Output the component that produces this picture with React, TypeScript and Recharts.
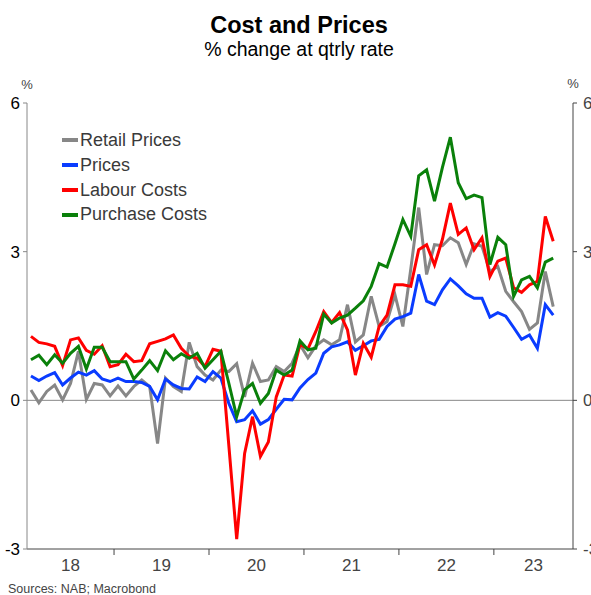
import React from 'react'
import {
  LineChart,
  Line,
  XAxis,
  YAxis,
  ReferenceLine,
} from 'recharts'

const FONT = '"Liberation Sans", Arial, sans-serif'

// monthly, Feb 2018 .. Aug 2023
const START_YEAR = 2018
const START_MONTH = 2

const retailPrices = [
  0.21, -0.05, 0.18, 0.31, 0.01, 0.34, 0.99, 0.02, 0.34, 0.31, 0.09, 0.29, 0.09, 0.28, 0.41, 0.28, -0.87, 0.45, 0.28, 0.18,
  1.17, 0.68, 0.51, 0.41, 0.61, 0.58, 0.74, 0.07, 0.75, 0.38, 0.41, 0.68, 0.58, 0.75, 1.12, 0.86, 1.1,
  1.22, 1.12, 1.22, 1.93, 1.18, 1.32, 2.1, 1.49, 1.59, 2.13, 1.49, 2.65, 3.89, 2.54, 3.14, 3.12,
  3.28, 3.18, 2.74, 3.16, 3.11, 2.6, 2.7, 2.2, 1.99, 1.79, 1.43, 1.56, 2.6, 1.89,
]

const prices = [
  0.49, 0.4, 0.49, 0.56, 0.31, 0.45, 0.57, 0.51, 0.6, 0.43, 0.38, 0.45, 0.38, 0.38, 0.36, 0.28, 0.01, 0.43, 0.31, 0.24,
  0.23, 0.47, 0.38, 0.58, 0.45, -0.06, -0.43, -0.39, -0.21, -0.48, -0.39, -0.18, 0.02, 0.01, 0.25, 0.42, 0.55,
  0.95, 1.08, 1.12, 1.18, 1.01, 1.1, 1.2, 1.23, 1.49, 1.64, 1.69, 1.76, 2.54, 2.0, 1.93, 2.23,
  2.45, 2.31, 2.15, 2.06, 2.06, 1.68, 1.77, 1.7, 1.47, 1.23, 1.32, 1.05, 1.93, 1.72,
]

const labourCosts = [
  1.29, 1.17, 1.14, 1.09, 0.7, 1.22, 1.26, 1.01, 0.93, 1.1, 0.68, 0.72, 0.93, 0.78, 0.8, 1.14, 1.19, 1.24, 1.32, 1.05,
  0.89, 0.85, 0.68, 1.03, 0.99, -0.9, -2.8, -1.07, -0.33, -1.13, -0.84, 0.07, 0.51, 0.49, 1.13, 1.04, 1.39,
  1.79, 1.57, 1.77, 1.42, 0.51, 1.15, 0.87, 1.49, 1.72, 2.33, 2.33, 2.3, 3.04, 3.14, 2.73, 3.25,
  3.98, 3.35, 3.48, 3.04, 3.28, 2.5, 2.81, 2.87, 2.27, 2.18, 2.33, 2.4, 3.71, 3.21,
]

const purchaseCosts = [
  0.82, 0.91, 0.72, 0.92, 0.75, 0.95, 1.09, 0.63, 1.07, 1.07, 0.78, 0.78, 0.78, 0.43, 0.61, 0.8, 0.6, 1.0, 0.82, 0.94,
  0.85, 0.95, 0.65, 0.82, 0.99, 0.35, -0.33, 0.21, 0.34, -0.06, 0.14, 0.61, 0.51, 0.61, 1.2, 1.02, 1.05,
  1.74, 1.56, 1.66, 1.72, 1.86, 2.01, 2.3, 2.76, 2.69, 3.16, 3.65, 3.31, 4.53, 4.65, 4.02, 4.7,
  5.31, 4.39, 4.07, 4.14, 4.09, 2.74, 3.29, 3.14, 2.1, 2.43, 2.5, 2.27, 2.79, 2.87,
]

const yearLabels = ['18', '19', '20', '21', '22', '23']
const yTicks = [-3, 0, 3, 6]

// x axis in months since Jan 2018; visible span Feb 2018 .. Oct 2023
const X_DOMAIN: [number, number] = [1, 70]
const yearBounds = [12, 24, 36, 48, 60]
const labelPos = [6.5, 18, 30, 42, 54, 65]

// both y axes share the same scale; purchase costs is bound to the right one
const SERIES = [
  { key: 'retail', name: 'Retail Prices', color: '#878787', values: retailPrices, axis: 'l' },
  { key: 'prices', name: 'Prices', color: '#0a3cff', values: prices, axis: 'l' },
  { key: 'labour', name: 'Labour Costs', color: '#ff0000', values: labourCosts, axis: 'l' },
  { key: 'purchase', name: 'Purchase Costs', color: '#0a800a', values: purchaseCosts, axis: 'r' },
]

const data = retailPrices.map((_, i) => {
  const row: Record<string, number> = { t: (START_YEAR - 2018) * 12 + (START_MONTH - 1) + i + 0.5 }
  SERIES.forEach((s) => {
    row[s.key] = s.values[i]
  })
  return row
})

function YearTick(props: any) {
  const { x, y, payload } = props
  const v = payload.value
  if (yearBounds.includes(v)) {
    return <line x1={x} x2={x} y1={y - 6} y2={y} stroke="#444" strokeWidth={1} />
  }
  const idx = labelPos.indexOf(v)
  return (
    <text x={x} y={y + 16} textAnchor="middle" fill="#444" fontSize={17} fontFamily={FONT}>
      {yearLabels[idx]}
    </text>
  )
}

function RightTick(props: any) {
  const { x, y, payload } = props
  return (
    <text x={x} y={y} dy="0.355em" textAnchor="start" fill="#444" fontSize={17} fontFamily={FONT}>
      {payload.value}
    </text>
  )
}

export default function App() {
  return (
    <div
      style={{
        position: 'absolute',
        left: 0,
        top: 0,
        width: 591,
        height: 595,
        background: '#fff',
        fontFamily: FONT,
        overflow: 'hidden',
      }}
    >
      <LineChart width={591} height={595} data={data} margin={{ top: 103, right: 0, bottom: 0, left: 0 }}>
        <XAxis
          dataKey="t"
          type="number"
          domain={X_DOMAIN}
          ticks={[...yearBounds, ...labelPos].sort((a, b) => a - b)}
          interval={0}
          height={46}
          tickLine={false}
          tickSize={6}
          tickMargin={0}
          axisLine={{ stroke: '#444' }}
          tick={<YearTick />}
          allowDataOverflow
        />
        <YAxis
          yAxisId="l"
          width={27}
          domain={[-3, 6]}
          ticks={yTicks}
          interval={0}
          tickSize={4}
          tickMargin={3}
          allowDataOverflow
          axisLine={{ stroke: '#888' }}
          tickLine={{ stroke: '#888' }}
          tick={{ fill: '#000', fontSize: 17, fontFamily: FONT }}
        />
        <YAxis
          yAxisId="r"
          orientation="right"
          width={18}
          domain={[-3, 6]}
          ticks={yTicks}
          interval={0}
          tickSize={4}
          tickMargin={6}
          allowDataOverflow
          axisLine={{ stroke: '#444' }}
          tickLine={{ stroke: '#444' }}
          tick={<RightTick />}
        />
        <ReferenceLine yAxisId="l" y={0} stroke="#888" strokeWidth={1} />
        {SERIES.map((s) => (
          <Line
            key={s.key}
            yAxisId={s.axis}
            type="linear"
            dataKey={s.key}
            name={s.name}
            stroke={s.color}
            strokeWidth={3}
            dot={false}
            isAnimationActive={false}
          />
        ))}
      </LineChart>

      <svg
        width={591}
        height={595}
        style={{ position: 'absolute', left: 0, top: 0, pointerEvents: 'none' }}
      >
        <text x={299} y={33} textAnchor="middle" fontSize={23.5} fontWeight="bold" fill="#000" fontFamily={FONT}>
          Cost and Prices
        </text>
        <text x={299} y={56} textAnchor="middle" fontSize={19.5} fill="#000" fontFamily={FONT}>
          % change at qtrly rate
        </text>
        <text x={27} y={89} textAnchor="middle" fontSize={13} fill="#444" fontFamily={FONT}>
          %
        </text>
        <text x={573} y={88} textAnchor="middle" fontSize={13} fill="#444" fontFamily={FONT}>
          %
        </text>
        <text x={8} y={592.5} fontSize={12.5} fill="#444" fontFamily={FONT}>
          Sources: NAB; Macrobond
        </text>
      </svg>

      <div style={{ position: 'absolute', left: 62, top: 128 }}>
        {SERIES.map((s) => (
          <div key={s.key} style={{ display: 'flex', alignItems: 'center', height: 24.8 }}>
            <span style={{ display: 'inline-block', width: 16, height: 4, background: s.color, marginRight: 2 }} />
            <span style={{ fontSize: 18, color: '#3a3a3a', lineHeight: '24.8px' }}>{s.name}</span>
          </div>
        ))}
      </div>
    </div>
  )
}
